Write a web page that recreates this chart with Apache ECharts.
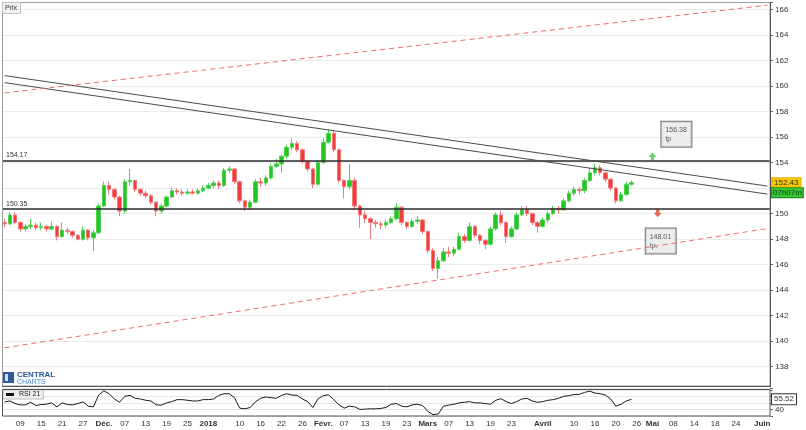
<!DOCTYPE html>
<html><head><meta charset="utf-8">
<script src="https://cdn.jsdelivr.net/npm/echarts@6/dist/echarts.min.js"></script>
<style>html,body{margin:0;padding:0;background:#fff}#c{width:806px;height:430px}</style>
</head><body><div id="c"></div>
<script>
// ---------- DATA ----------
const startDate = '2017-11-06';
const endDate = '2018-06-04';
const holidays = ['2017-12-26', '2018-01-01', '2018-05-07', '2018-05-28'];

const tickDates = ['2017-11-09','2017-11-15','2017-11-21','2017-11-27','2017-12-01','2017-12-07','2017-12-13','2017-12-19','2017-12-25','2018-01-02','2018-01-10','2018-01-16','2018-01-22','2018-01-26','2018-02-01','2018-02-07','2018-02-13','2018-02-19','2018-02-23','2018-03-01','2018-03-07','2018-03-13','2018-03-19','2018-03-23','2018-04-02','2018-04-10','2018-04-16','2018-04-20','2018-04-26','2018-05-01','2018-05-08','2018-05-14','2018-05-18','2018-05-24','2018-06-01'];
const tickTexts = ['09','15','21','27','Déc.','07','13','19','25','2018','10','16','22','26','Févr.','07','13','19','23','Mars','07','13','19','23','Avril','10','16','20','26','Mai','08','14','18','24','Juin'];
const boldTicks = ['Déc.','2018','Févr.','Mars','Avril','Mai','Juin'];

const opens = [149.3,149.2,149.9,149.3,148.8,149.0,149.1,148.9,149.0,148.8,149.0,148.2,148.7,148.6,148.3,148.0,148.7,148.1,148.5,150.6,
152.2,151.9,151.3,150.2,152.5,152.6,151.9,151.6,151.4,150.9,150.2,150.6,151.3,151.8,151.7,151.6,151.7,151.6,151.8,152.0,
152.2,152.4,152.2,153.4,153.5,152.5,151.0,150.5,150.9,152.5,152.4,152.8,153.7,153.9,154.5,155.2,155.5,155.0,154.1,153.5,
152.3,154.0,155.6,156.3,155.0,152.6,152.1,152.6,150.6,149.9,149.6,149.3,149.2,149.1,149.3,149.6,150.5,149.3,149.0,149.4,
149.5,148.6,147.1,145.7,146.3,147.0,146.9,147.2,148.2,147.9,149.0,148.3,147.9,147.6,148.8,149.9,149.3,148.2,148.8,149.9,
150.3,150.0,149.3,149.0,149.5,150.0,150.4,150.3,151.0,151.6,151.9,151.8,152.6,153.2,153.6,153.2,152.7,152.0,151.0,151.5,152.3];
const closes = [149.2,149.9,149.3,148.8,149.0,149.1,148.9,149.0,148.8,149.0,148.2,148.7,148.6,148.3,148.0,148.7,148.1,148.5,150.6,152.2,
151.9,151.3,150.2,152.5,152.6,151.9,151.6,151.4,150.9,150.2,150.6,151.3,151.8,151.7,151.6,151.7,151.6,151.8,152.0,152.2,
152.4,152.2,153.4,153.5,152.5,151.0,150.5,150.9,152.5,152.4,152.8,153.7,153.9,154.5,155.2,155.5,155.0,154.1,153.5,152.3,
154.0,155.6,156.3,155.0,152.6,152.1,152.6,150.6,149.9,149.6,149.3,149.2,149.1,149.3,149.6,150.5,149.3,149.0,149.4,149.5,
148.6,147.1,145.7,146.3,147.0,146.9,147.2,148.2,147.9,149.0,148.3,147.9,147.6,148.8,149.9,149.3,148.2,148.8,149.9,150.3,
150.0,149.3,149.0,149.5,150.0,150.4,150.3,151.0,151.6,151.9,151.8,152.6,153.2,153.6,153.2,152.7,152.0,151.0,151.5,152.3,152.43];
const lows = [148.9,149.1,149.2,148.6,148.6,148.8,148.7,148.7,148.6,148.7,147.9,148.1,148.4,148.1,147.9,147.9,147.9,147.06,148.4,150.5,
151.5,151.1,149.8,150.0,152.2,151.7,151.4,151.2,150.7,149.8,150.0,150.5,151.2,151.5,151.4,151.5,151.5,151.5,151.7,151.9,
152.0,151.9,152.1,153.2,152.3,150.8,150.2,150.3,150.8,152.1,152.2,152.7,153.6,153.2,154.3,155.0,154.8,153.9,153.3,152.0,
152.2,153.9,155.5,154.8,152.4,151.2,151.9,150.3,148.9,149.3,148.0,148.9,148.8,148.9,149.2,149.5,149.1,148.8,148.9,149.2,
148.4,146.9,145.5,144.9,146.2,146.6,146.7,147.1,147.7,147.8,148.1,147.6,147.2,147.5,148.7,149.1,147.7,148.1,148.7,149.8,
149.8,149.1,148.5,148.9,149.3,149.9,150.0,150.2,150.9,151.4,151.5,151.6,152.5,153.0,153.0,152.5,151.8,150.8,150.9,151.4,152.2];
const highs = [149.6,150.1,150.1,149.4,149.2,149.6,149.3,149.3,149.1,149.4,149.1,149.3,148.9,148.7,148.4,149.0,148.8,148.7,150.8,152.5,
152.5,152.0,151.4,152.7,153.5,152.6,152.0,151.8,151.5,151.0,150.8,151.4,152.0,152.0,151.9,151.9,151.9,152.0,152.2,152.4,
152.6,152.6,153.6,153.7,153.6,152.6,151.1,151.1,152.7,152.8,153.0,153.9,154.3,154.6,155.4,155.9,155.7,155.1,154.2,153.6,
154.2,155.9,156.6,156.5,155.1,152.7,153.9,152.8,150.7,150.2,149.7,149.5,149.4,149.5,149.8,150.8,150.6,149.4,149.6,149.8,
149.6,148.7,147.3,146.6,147.3,147.4,147.4,148.5,148.4,149.3,149.1,148.4,148.0,149.0,150.1,150.2,149.4,149.0,150.1,150.6,
150.6,150.1,149.4,149.7,150.2,150.6,150.6,151.2,151.8,152.1,152.1,152.8,153.6,153.9,153.8,153.3,152.8,152.1,151.7,152.5,152.6];

const rsi21 = [51.5,53,49,47,47,51,46,47.5,48,50,44,50,47.5,47,49,51.5,45,44,62,68.5,
64,56,51,60,61.5,57,56,54,53,47,46.5,50,52,55,55,54,53,53,55,55,
56,61.5,64,64,58,42,41,43,51.5,57,59,58,57,61.5,64,62,61.5,56,52,43,
56.5,61,62.5,55,47,42,45,44,40,40.5,41,41,41.5,43,48,49,45,44,47,48,
46,37,32,33,45,46.5,48,50,51,52,50,50,49,48,54,56.5,52,49,52,56,
57,53,51,52,54,55,57,60,61,63,63,66,68,65,64,62,56,45,48,53,55.52];

const levelHigh = 154.17;
const levelLow = 150.35;
const lastPrice = 152.43;
const timerText = '07h07m';
const lastRsi = 55.52;
// trend lines: [value at first category, value at last category]
const resistA = [160.82, 152.16];
const resistB = [160.27, 151.53];
const channelTop = [159.46, 166.34];
const channelBottom = [139.48, 148.83];
// signals
const buySignalDate = '2018-05-01';
const sellSignalDate = '2018-05-02';
const tpDates = ['2018-05-03', '2018-04-30'];
const tpValues = [156.38, 148.01];
const tpTexts = ['tp', 'tp.'];

// ---------- BUILD ----------
function buildDays(start, end, skip) {
  const out = [];
  const d = new Date(start + 'T00:00:00Z');
  const e = new Date(end + 'T00:00:00Z');
  while (d <= e) {
    const w = d.getUTCDay();
    const s = d.toISOString().slice(0, 10);
    if (w !== 0 && w !== 6 && skip.indexOf(s) < 0) out.push(s);
    d.setUTCDate(d.getUTCDate() + 1);
  }
  return out;
}
const days = buildDays(startDate, endDate, holidays);
const firstDay = days[0], lastDay = days[days.length - 1];
const candles = opens.map((o, i) => [o, closes[i], lows[i], highs[i]]);

const FONT = 'Liberation Sans, Arial, sans-serif';
const chart = echarts.init(document.getElementById('c'), null, {renderer: 'canvas'});

function trend(vals, style) {
  return [{coord: [firstDay, vals[0]], lineStyle: style}, {coord: [lastDay, vals[1]]}];
}
const blackLine = {color: '#4a4a4a', width: 1, type: 'solid'};
const redDash = {color: '#f06a6a', width: 1, type: [5, 4]};
const hiddenLine = {color: 'rgba(0,0,0,0)', width: 0};

const option = {
  animation: false,
  backgroundColor: '#fff',
  textStyle: {fontFamily: FONT},
  legend: {
    data: ['RSI 21'], left: 3, top: 390, icon: 'rect', itemWidth: 8, itemHeight: 3,
    padding: [1, 3], backgroundColor: '#efefef', borderColor: '#bdbdbd', borderWidth: 1,
    textStyle: {fontSize: 7, color: '#222', fontFamily: FONT}, selectedMode: false
  },
  grid: [
    {left: 2, right: 36, top: 2, bottom: 63.3},
    {left: 2, right: 36, top: 388.5, bottom: 14}
  ],
  xAxis: [
    {type: 'category', gridIndex: 0, data: days, boundaryGap: true,
     axisLine: {show: false}, axisTick: {show: false}, axisLabel: {show: false}, splitLine: {show: false}},
    {type: 'category', gridIndex: 1, data: days, boundaryGap: true,
     axisLine: {show: false}, axisTick: {show: false}, splitLine: {show: false},
     axisLabel: {
       interval: (i, v) => tickDates.indexOf(v) >= 0,
       margin: 4, fontSize: 8, color: '#333', fontFamily: FONT,
       formatter: (v) => {
         const k = tickDates.indexOf(v);
         if (k < 0) return '';
         const t = tickTexts[k];
         return boldTicks.indexOf(t) >= 0 ? '{b|' + t + '}' : t;
       },
       rich: {b: {fontWeight: 'bold', fontSize: 8, color: '#333', fontFamily: FONT}}
     }}
  ],
  yAxis: [
    {type: 'value', gridIndex: 0, position: 'right', min: 138, max: 166.59, interval: 2,
     axisLine: {show: false},
     axisTick: {show: true, length: 3, lineStyle: {color: '#666'}},
     axisLabel: {fontSize: 8, color: '#333', margin: 5, fontFamily: FONT,
       formatter: v => (Math.abs(v - Math.round(v)) < 1e-6 && Math.round(v) % 2 === 0) ? String(Math.round(v)) : ''},
     splitLine: {show: true, lineStyle: {color: '#ececec', width: 1}}},
    {type: 'value', gridIndex: 1, position: 'right', min: 30, max: 72, interval: 10,
     axisLine: {show: false},
     axisTick: {show: true, length: 3, lineStyle: {color: '#666'}},
     axisLabel: {fontSize: 8, color: '#333', margin: 5, fontFamily: FONT,
       formatter: v => (v === 40 || v === 60) ? String(v) : ''},
     splitLine: {show: true, lineStyle: {color: '#e6e6e6', width: 1}}}
  ],
  series: [
    {
      name: 'Prix', type: 'candlestick', xAxisIndex: 0, yAxisIndex: 0,
      data: candles, barWidth: 4,
      itemStyle: {color: '#22c522', color0: '#f23b3b', borderColor: '#4fd24f', borderColor0: '#f77a7a', borderWidth: 1},
      markLine: {
        silent: true, symbol: 'none', animation: false,
        data: [
          {yAxis: levelHigh, lineStyle: {color: '#2b2b2b', width: 1.5, type: 'solid'},
           label: {show: true, position: 'insideStartTop', distance: [4, 2], formatter: levelHigh.toFixed(2), fontSize: 7, color: '#333', fontFamily: FONT}},
          {yAxis: levelLow, lineStyle: {color: '#2b2b2b', width: 1.5, type: 'solid'},
           label: {show: true, position: 'insideStartTop', distance: [4, 2], formatter: levelLow.toFixed(2), fontSize: 7, color: '#333', fontFamily: FONT}},
          trend(resistA, blackLine),
          trend(resistB, blackLine),
          trend(channelTop, redDash),
          trend(channelBottom, redDash),
          {yAxis: lastPrice, lineStyle: hiddenLine,
           label: {show: true, position: 'end', distance: 2,
             formatter: '{s|}\n{a|' + lastPrice.toFixed(2) + '}\n{t|' + timerText + '}',
             rich: {
               s: {height: 10, fontSize: 1},
               a: {height: 8, lineHeight: 10, fontSize: 8, color: '#333', backgroundColor: '#f6c500', borderColor: '#e2b300', borderWidth: 1, padding: [1, 2, 0, 2], fontFamily: FONT},
               t: {height: 8, lineHeight: 10, fontSize: 8, color: '#0d3b0d', backgroundColor: '#35c735', borderColor: '#228b22', borderWidth: 1, padding: [1, 1, 0, 1], fontFamily: FONT}
             }}}
        ]
      }
    },
    {
      name: 'signals', type: 'scatter', xAxisIndex: 0, yAxisIndex: 0, silent: true,
      data: [
        {value: [buySignalDate, levelHigh], symbol: 'path://M5,0 L10,5 L7,5 L7,9 L3,9 L3,5 L0,5 Z', symbolSize: [8, 8], symbolOffset: [0, -4], itemStyle: {color: '#3ccf3c'}},
        {value: [sellSignalDate, levelLow], symbol: 'path://M3,0 L7,0 L7,4 L10,4 L5,9 L0,4 L3,4 Z', symbolSize: [8, 8], symbolOffset: [0, 4], itemStyle: {color: '#e0452f'}}
      ]
    },
    {
      name: 'tp', type: 'scatter', xAxisIndex: 0, yAxisIndex: 0, silent: true,
      symbolSize: 1, itemStyle: {color: 'rgba(0,0,0,0)'},
      data: tpDates.map((d, i) => ({value: [d, tpValues[i]], txt: tpTexts[i]})),
      label: {
        show: true, position: [-1, -10], align: 'left', verticalAlign: 'top',
        formatter: p => p.value[1].toFixed(2) + '\n' + p.data.txt,
        fontSize: 7, lineHeight: 9, color: '#333', fontFamily: FONT,
        backgroundColor: '#e9e9e9', borderColor: '#555', borderWidth: 1,
        padding: [4, 6, 3, 4], width: 20
      }
    },
    {
      name: 'RSI 21', type: 'line', xAxisIndex: 1, yAxisIndex: 1, data: rsi21,
      symbol: 'none', lineStyle: {color: '#1a1a1a', width: 1}, itemStyle: {color: '#111'},
      markLine: {
        silent: true, symbol: 'none',
        data: [{yAxis: lastRsi, lineStyle: hiddenLine,
          label: {show: true, position: 'end', distance: 2, formatter: lastRsi.toFixed(2),
            fontSize: 8, color: '#333', backgroundColor: '#fff', borderColor: '#333', borderWidth: 1, padding: [1, 2], fontFamily: FONT}}]
      }
    }
  ],
  graphic: [
    {type: 'rect', silent: true, z: 100, shape: {x: 2.5, y: 2.5, width: 767.5, height: 383.5}, style: {fill: 'none', stroke: '#9a9a9a', lineWidth: 1}},
    {type: 'line', silent: true, z: 100, shape: {x1: 770.5, y1: 2, x2: 770.5, y2: 386}, style: {stroke: '#555', lineWidth: 1}},
    {type: 'line', silent: true, z: 100, shape: {x1: 2, y1: 386.5, x2: 771, y2: 386.5}, style: {stroke: '#555', lineWidth: 1}},
    {type: 'rect', silent: true, z: 100, shape: {x: 2.5, y: 389.5, width: 767.5, height: 26.5}, style: {fill: 'none', stroke: '#555', lineWidth: 1}},
    {type: 'rect', silent: true, z: 101, shape: {x: 2.5, y: 2.5, width: 18, height: 11}, style: {fill: '#f1f1f1', stroke: '#c4c4c4', lineWidth: 1}},
    {type: 'text', silent: true, z: 102, style: {x: 5, y: 8, text: 'Prix', fontSize: 7, fill: '#333', font: '7px ' + FONT, verticalAlign: 'middle'}},
    {type: 'group', silent: true, z: 100, children: [
      {type: 'rect', shape: {x: 3, y: 372, width: 11, height: 11}, style: {fill: '#2c5a9c'}},
      {type: 'rect', shape: {x: 5, y: 374, width: 3, height: 7}, style: {fill: '#cfe0f3'}},
      {type: 'text', style: {x: 17, y: 375, text: 'CENTRAL', font: 'bold 8px ' + FONT, fill: '#2c5a9c', verticalAlign: 'middle'}},
      {type: 'text', style: {x: 17, y: 382, text: 'CHARTS', font: '7px ' + FONT, fill: '#4a86c8', verticalAlign: 'middle'}}
    ]}
  ]
};
chart.setOption(option);
</script>
</body></html>
